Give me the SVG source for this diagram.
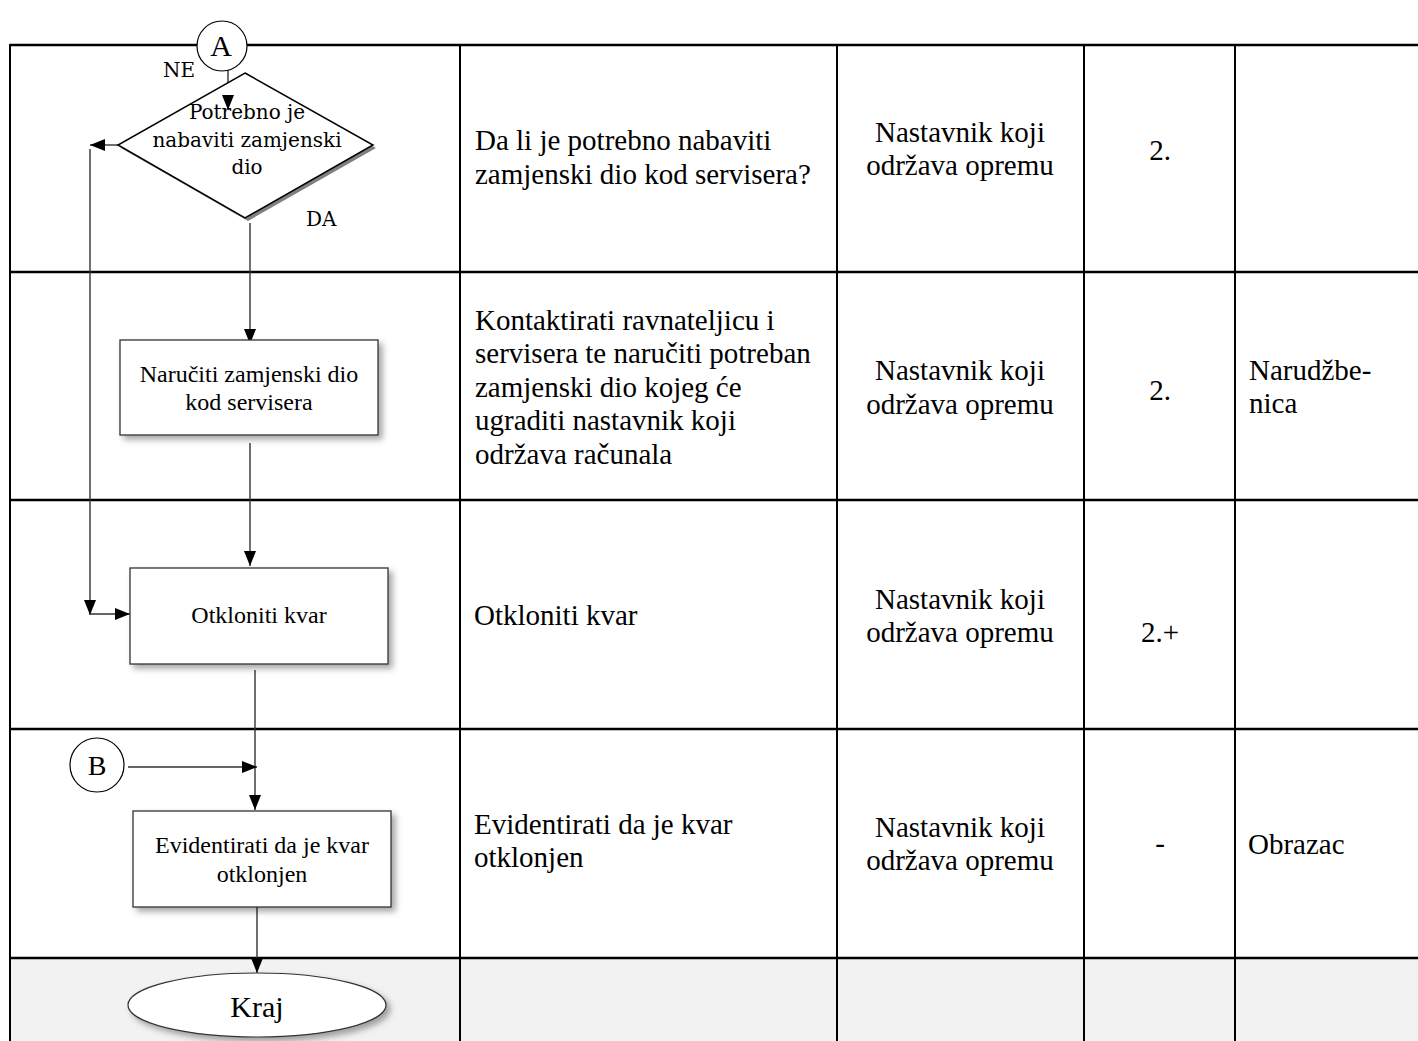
<svg xmlns="http://www.w3.org/2000/svg" width="1418" height="1041" viewBox="0 0 1418 1041">
<style>
.tl{stroke:#000;stroke-width:2.5;fill:none}
.tv{stroke:#000;stroke-width:2;fill:none}
.cell{font-family:"Liberation Serif","Times New Roman",serif;font-size:29px;fill:#000}
.ctr{text-anchor:middle}
.box{fill:#fff;stroke:#333;stroke-width:1.3}
.btxt{font-family:"Liberation Serif","Times New Roman",serif;font-size:24px;fill:#000;text-anchor:middle}
.dtxt{font-family:"DejaVu Serif",serif;font-size:20px;fill:#000}
.conn{stroke:#333;stroke-width:1.4;fill:none}
.circ{fill:#fff;stroke:#000;stroke-width:1.2}
</style>
<defs>
<marker id="arr" markerUnits="userSpaceOnUse" markerWidth="15" markerHeight="12" refX="15" refY="6" orient="auto">
<path d="M0,0 L15,6 L0,12 z" fill="#000"/>
</marker>
<filter id="sh" x="-10%" y="-10%" width="130%" height="140%">
<feDropShadow dx="4" dy="4" stdDeviation="3" flood-color="#000" flood-opacity="0.35"/>
</filter>
</defs>
<rect width="1418" height="1041" fill="#fff"/>
<g id="table">
<rect x="10" y="958" width="1408" height="83" fill="#f2f2f2"/>
<path class="tl" d="M10,45 H1418 M10,272 H1418 M10,500 H1418 M10,729 H1418 M10,958 H1418"/>
<path class="tv" d="M10,44 V1041 M460,45 V1041 M837,45 V1041 M1084,45 V1041 M1235,45 V1041"/>
<text class="cell" x="475" y="150">Da li je potrebno nabaviti</text>
<text class="cell" x="475" y="184">zamjenski dio kod servisera?</text>
<text class="cell ctr" x="960" y="142">Nastavnik koji</text>
<text class="cell ctr" x="960" y="175">održava opremu</text>
<text class="cell ctr" x="1160" y="160">2.</text>
<text class="cell" x="475" y="330">Kontaktirati ravnateljicu i</text>
<text class="cell" x="475" y="363">servisera te naručiti potreban</text>
<text class="cell" x="475" y="397">zamjenski dio kojeg će</text>
<text class="cell" x="475" y="430">ugraditi nastavnik koji</text>
<text class="cell" x="475" y="464">održava računala</text>
<text class="cell ctr" x="960" y="380">Nastavnik koji</text>
<text class="cell ctr" x="960" y="414">održava opremu</text>
<text class="cell ctr" x="1160" y="400">2.</text>
<text class="cell" x="1249" y="380">Narudžbe-</text>
<text class="cell" x="1249" y="413">nica</text>
<text class="cell" x="474" y="625">Otkloniti kvar</text>
<text class="cell ctr" x="960" y="609">Nastavnik koji</text>
<text class="cell ctr" x="960" y="642">održava opremu</text>
<text class="cell ctr" x="1160" y="642">2.+</text>
<text class="cell" x="474" y="834">Evidentirati da je kvar</text>
<text class="cell" x="474" y="867">otklonjen</text>
<text class="cell ctr" x="960" y="837">Nastavnik koji</text>
<text class="cell ctr" x="960" y="870">održava opremu</text>
<text class="cell ctr" x="1160" y="853">-</text>
<text class="cell" x="1248" y="854">Obrazac</text>
</g>
<g id="connectors">
<path class="conn" d="M228,68 V110" marker-end="url(#arr)"/>
<path class="conn" d="M118,145 H90" marker-end="url(#arr)"/>
<path class="conn" d="M90,149 V615" marker-end="url(#arr)"/>
<path class="conn" d="M90,614 H130" marker-end="url(#arr)"/>
<path class="conn" d="M250,223 V344" marker-end="url(#arr)"/>
<path class="conn" d="M250,443 V566" marker-end="url(#arr)"/>
<path class="conn" d="M255,670 V810" marker-end="url(#arr)"/>
<path class="conn" d="M128,767 H257" marker-end="url(#arr)"/>
<path class="conn" d="M257,907 V973" marker-end="url(#arr)"/>
</g>
<g id="nodeA">
<circle class="circ" cx="222" cy="46" r="25"/>
<text x="221" y="56" font-family="Liberation Serif, serif" font-size="30" text-anchor="middle">A</text>
</g>
<g id="decision">
<polygon points="248,76 376,148 248,221 121,148" fill="#808080"/>
<polygon points="245,73 373,145 245,218 118,145" fill="#fff" stroke="#000" stroke-width="1.5"/>
<path class="conn" d="M228,95 V110" marker-end="url(#arr)"/>
<text class="dtxt" x="247" y="119" text-anchor="middle">Potrebno je</text>
<text class="dtxt" x="247" y="147" text-anchor="middle">nabaviti zamjenski</text>
<text class="dtxt" x="247" y="174" text-anchor="middle">dio</text>
<text class="dtxt" x="163" y="77">NE</text>
<text class="dtxt" x="306" y="226">DA</text>
</g>
<g id="box1">
<rect class="box" x="120" y="340" width="258" height="95" filter="url(#sh)"/>
<text class="btxt" x="249" y="382">Naručiti zamjenski dio</text>
<text class="btxt" x="249" y="410">kod servisera</text>
</g>
<g id="box2">
<rect class="box" x="130" y="568" width="258" height="96" filter="url(#sh)"/>
<text class="btxt" x="259" y="623">Otkloniti kvar</text>
</g>
<g id="nodeB">
<circle class="circ" cx="97" cy="765" r="27"/>
<text x="97" y="775" font-family="Liberation Serif, serif" font-size="28" text-anchor="middle">B</text>
</g>
<g id="box3">
<rect class="box" x="133" y="811" width="258" height="96" filter="url(#sh)"/>
<text class="btxt" x="262" y="853">Evidentirati da je kvar</text>
<text class="btxt" x="262" y="882">otklonjen</text>
</g>
<g id="end">
<ellipse cx="257" cy="1005" rx="129" ry="32" fill="#fff" stroke="#333" stroke-width="1.2" filter="url(#sh)"/>
<text x="257" y="1017" font-family="Liberation Serif, serif" font-size="30" text-anchor="middle">Kraj</text>
</g>
</svg>
